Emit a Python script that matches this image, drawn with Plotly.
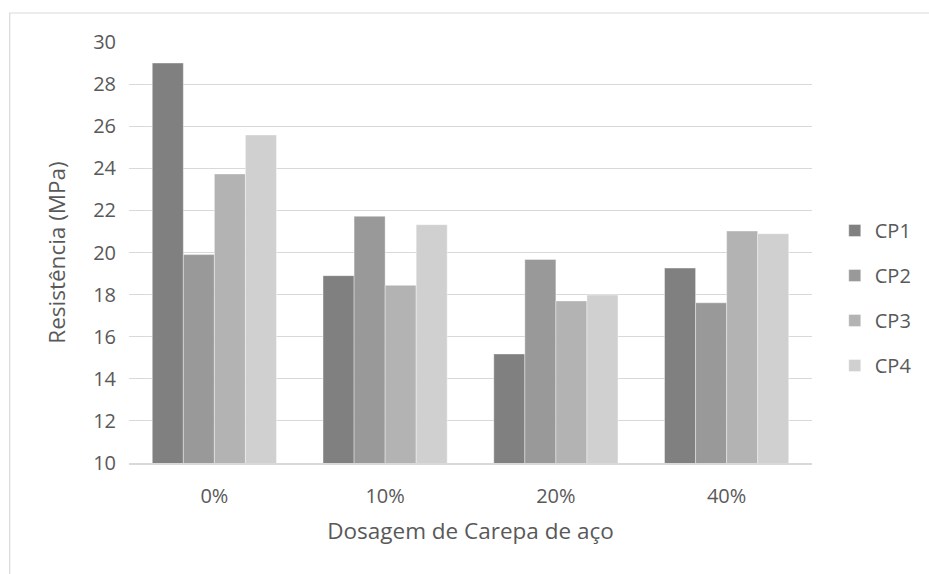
import plotly.graph_objects as go

# Compressive strength by steel-scale dosage, four specimens per dosage
dosagens = ["0%", "10%", "20%", "40%"]
cp1 = [29.0, 18.9, 15.18, 19.26]
cp2 = [19.9, 21.72, 19.67, 17.61]
cp3 = [23.73, 18.44, 17.7, 21.02]
cp4 = [25.58, 21.32, 17.98, 20.89]

series = [("CP1", cp1, "#808080"),
          ("CP2", cp2, "#999999"),
          ("CP3", cp3, "#b3b3b3"),
          ("CP4", cp4, "#d0d0d0")]

FONT = "Open Sans"
TXT = "#595959"
GRID = "#d9d9d9"

fig = go.Figure()
for name, vals, color in series:
    fig.add_trace(go.Bar(
        x=dosagens, y=vals, name=name, legendgroup=name,
        marker=dict(color=color, line=dict(color="rgba(255,255,255,0.55)", width=0.7)),
    ))

W, H = 929, 574
L, R, T, B = 129, 110, 42, 111
pw, ph = W - L - R, H - T - B

def px_x(p):
    return (p - L) / pw

def px_y(p):
    return (H - B - p) / ph

fig.update_layout(
    width=W, height=H,
    margin=dict(l=L, r=R, t=T, b=B),
    paper_bgcolor="white", plot_bgcolor="white",
    barmode="group", bargap=0.2727, bargroupgap=0,
    font=dict(family=FONT, color=TXT, size=20),
    xaxis=dict(
        showgrid=False, showline=True, linecolor=GRID, linewidth=2,
        ticks="", tickfont=dict(size=20, color=TXT),
        ticklabelstandoff=14,
        title=dict(text="Dosagem de Carepa de aço", font=dict(size=22.5, color=TXT), standoff=15),
    ),
    yaxis=dict(
        range=[10, 30], dtick=2, tick0=10,
        showgrid=True, gridcolor=GRID, gridwidth=1,
        showline=False, zeroline=False, ticks="",
        tickfont=dict(size=20, color=TXT),
        ticklabelstandoff=12,
        title=dict(text="Resistência (MPa)", font=dict(size=22.5, color=TXT), standoff=21),
    ),
    legend=dict(
        x=px_x(842), xanchor="left",
        y=px_y(298), yanchor="middle",
        font=dict(size=20, color=TXT),
        tracegroupgap=16, itemwidth=30,
        bgcolor="rgba(0,0,0,0)",
    ),
    showlegend=True,
)

# chart-area frame
fig.add_shape(type="rect", xref="paper", yref="paper",
              x0=px_x(8.5), x1=px_x(940), y0=px_y(13), y1=px_y(590),
              line=dict(color=GRID, width=1.2), fillcolor="rgba(0,0,0,0)", layer="below")

fig.write_html("out.html")
